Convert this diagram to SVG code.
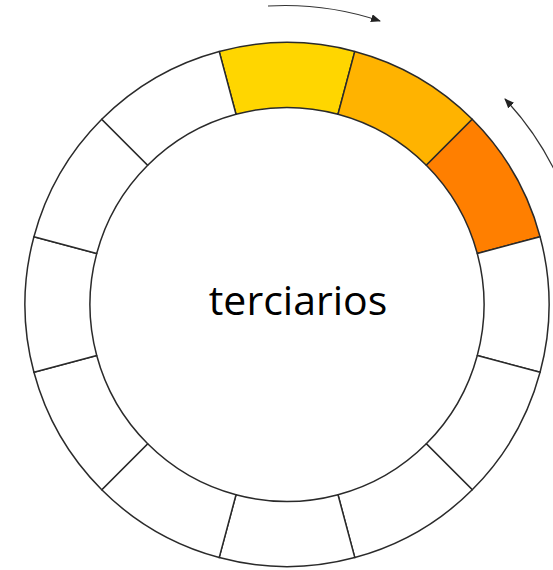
<svg xmlns="http://www.w3.org/2000/svg" width="553" height="570" viewBox="0 0 553 570">
<style>
.seg{stroke:#2a2a2a;stroke-width:1.5;fill:#ffffff;stroke-linejoin:round}
.arr{fill:none;stroke:#333;stroke-width:1.2}
.lbl{font-family:"Open Sans","Liberation Sans",sans-serif;font-size:41px;font-weight:500;fill:#000;text-anchor:middle}
</style>
<defs>
<marker id="ah" viewBox="0 0 10 8" refX="9" refY="4" markerWidth="10" markerHeight="8" markerUnits="userSpaceOnUse" orient="auto">
<path d="M0,0 L10,4 L0,8 Z" fill="#222"/>
</marker>
</defs>
<rect width="553" height="570" fill="#ffffff"/>
<g id="segments">
<g id="seg-0"><path class="seg" style="fill:#FFD600" d="M219.19,51.43 A262,262 0 0 1 354.81,51.43 L337.99,114.21 A197,197 0 0 0 236.01,114.21 Z"/></g>
<g id="seg-1"><path class="seg" style="fill:#FFB300" d="M354.81,51.43 A262,262 0 0 1 472.26,119.24 L426.30,165.20 A197,197 0 0 0 337.99,114.21 Z"/></g>
<g id="seg-2"><path class="seg" style="fill:#FF7F00" d="M472.26,119.24 A262,262 0 0 1 540.07,236.69 L477.29,253.51 A197,197 0 0 0 426.30,165.20 Z"/></g>
<g id="seg-3"><path class="seg" d="M540.07,236.69 A262,262 0 0 1 540.07,372.31 L477.29,355.49 A197,197 0 0 0 477.29,253.51 Z"/></g>
<g id="seg-4"><path class="seg" d="M540.07,372.31 A262,262 0 0 1 472.26,489.76 L426.30,443.80 A197,197 0 0 0 477.29,355.49 Z"/></g>
<g id="seg-5"><path class="seg" d="M472.26,489.76 A262,262 0 0 1 354.81,557.57 L337.99,494.79 A197,197 0 0 0 426.30,443.80 Z"/></g>
<g id="seg-6"><path class="seg" d="M354.81,557.57 A262,262 0 0 1 219.19,557.57 L236.01,494.79 A197,197 0 0 0 337.99,494.79 Z"/></g>
<g id="seg-7"><path class="seg" d="M219.19,557.57 A262,262 0 0 1 101.74,489.76 L147.70,443.80 A197,197 0 0 0 236.01,494.79 Z"/></g>
<g id="seg-8"><path class="seg" d="M101.74,489.76 A262,262 0 0 1 33.93,372.31 L96.71,355.49 A197,197 0 0 0 147.70,443.80 Z"/></g>
<g id="seg-9"><path class="seg" d="M33.93,372.31 A262,262 0 0 1 33.93,236.69 L96.71,253.51 A197,197 0 0 0 96.71,355.49 Z"/></g>
<g id="seg-10"><path class="seg" d="M33.93,236.69 A262,262 0 0 1 101.74,119.24 L147.70,165.20 A197,197 0 0 0 96.71,253.51 Z"/></g>
<g id="seg-11"><path class="seg" d="M101.74,119.24 A262,262 0 0 1 219.19,51.43 L236.01,114.21 A197,197 0 0 0 147.70,165.20 Z"/></g>
</g>
<g id="center-label"><text class="lbl" x="298" y="315">terciarios</text></g>
<g id="connectors">
<path class="arr" d="M268,6 A299,299 0 0 1 380,21" marker-end="url(#ah)"/>
<path class="arr" d="M568,202 A299,299 0 0 0 505,99" marker-end="url(#ah)"/>
</g>
</svg>
